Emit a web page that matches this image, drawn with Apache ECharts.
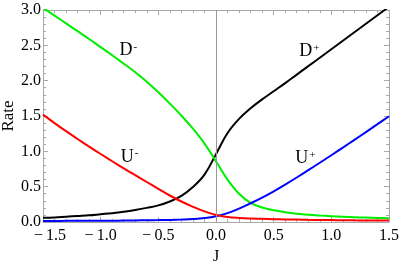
<!DOCTYPE html>
<html>
<head>
<meta charset="utf-8">
<style>
html,body{margin:0;padding:0;background:#fff;}
#chart{width:402px;height:264px;}
</style>
<script src="https://cdn.jsdelivr.net/npm/echarts@6/dist/echarts.min.js"></script>
</head>
<body>
<div id="chart"></div>
<script>
var jValues = [-1.5,-1.4,-1.3,-1.2,-1.1,-1.0,-0.9,-0.8,-0.7,-0.6,-0.5,-0.4,-0.3,-0.2,-0.1,0.0,0.1,0.2,0.3,0.4,0.5,0.6,0.7,0.8,0.9,1.0,1.1,1.2,1.3,1.4,1.5];
var dPlus  = [0.06,0.065,0.075,0.085,0.095,0.11,0.125,0.145,0.17,0.20,0.235,0.29,0.37,0.495,0.67,0.96,1.26,1.46,1.61,1.735,1.85,1.965,2.085,2.205,2.325,2.445,2.565,2.685,2.805,2.925,3.045];
var dMinus = [3.03,2.92,2.81,2.70,2.59,2.475,2.36,2.24,2.12,1.985,1.835,1.675,1.505,1.32,1.11,0.86,0.60,0.40,0.27,0.205,0.165,0.138,0.118,0.103,0.092,0.083,0.075,0.068,0.062,0.057,0.052];
var uPlus  = [0.015,0.015,0.016,0.017,0.017,0.018,0.019,0.02,0.022,0.025,0.027,0.03,0.035,0.042,0.055,0.08,0.125,0.19,0.265,0.345,0.435,0.53,0.63,0.733,0.838,0.945,1.053,1.162,1.272,1.384,1.497];
var uMinus = [1.52,1.40,1.285,1.175,1.067,0.962,0.86,0.76,0.662,0.566,0.47,0.375,0.29,0.215,0.15,0.10,0.072,0.058,0.05,0.045,0.04,0.037,0.034,0.031,0.029,0.027,0.025,0.023,0.022,0.021,0.02];
var xTicks = ['\u2212\u20091.5','\u2212\u20091.0','\u2212\u20090.5','0.0','0.5','1.0','1.5'];
var yTicks = ['0.0','0.5','1.0','1.5','2.0','2.5','3.0'];
var curveLabels = [
  {name:'D', sup:'-', at:[-0.76, 2.43]},
  {name:'D', sup:'+', at:[0.81, 2.415]},
  {name:'U', sup:'-', at:[-0.75, 0.92]},
  {name:'U', sup:'+', at:[0.775, 0.895]}
];

function pairs(ys){ return jValues.map(function(j,i){ return [j, ys[i]]; }); }
var FONT = '"Liberation Serif", "DejaVu Serif", serif';
var frameColor = '#a8a8a8';

function fmtX(v){
  var idx = Math.round((v + 1.5) * 2);
  var s = xTicks[idx];
  if (idx === 0) return '{first|' + s + '}';
  return s;
}

function labelPoint(l){
  return {
    coord: l.at,
    symbol: 'circle', symbolSize: 1,
    itemStyle: {color: 'rgba(0,0,0,0)'},
    label: {
      show: true, position: 'inside',
      formatter: '{b|' + l.name + '}{s|' + l.sup + '}',
      rich: {
        b: {fontFamily: FONT, fontSize: 18, color: '#000', verticalAlign: 'bottom'},
        s: {fontFamily: FONT, fontSize: 11, color: '#000', verticalAlign: 'top', padding: [0,0,0,1]}
      }
    }
  };
}

function curve(name, ys, color, lbl){
  return {
    name: name, type: 'line', data: pairs(ys),
    smooth: 0.4, showSymbol: false, symbol: 'none',
    lineStyle: {color: color, width: 2}, z: 3, clip: true,
    markPoint: {silent: true, data: [labelPoint(lbl)], animation: false}
  };
}

var chart = echarts.init(document.getElementById('chart'), null, {renderer: 'canvas'});
var axisCommon = {
  axisLine: {show: true, onZero: false, lineStyle: {color: frameColor, width: 1}},
  axisTick: {show: true, inside: true, length: 5, lineStyle: {color: frameColor}},
  minorTick: {show: true, splitNumber: 5, length: 3, lineStyle: {color: frameColor}},
  splitLine: {show: false}, minorSplitLine: {show: false}
};
chart.setOption({
  animation: false,
  backgroundColor: '#fff',
  grid: {left: 43, right: 13, top: 10, bottom: 42, containLabel: false, outerBoundsMode: 'none'},
  xAxis: [
    Object.assign({type: 'value', min: -1.5, max: 1.5, interval: 0.5, position: 'bottom',
      name: 'J', nameLocation: 'middle', nameGap: 27, nameMoveOverlap: false,
      nameTextStyle: {fontFamily: FONT, fontSize: 16, color: '#000'},
      axisLabel: {show: true, margin: 6, fontFamily: FONT, fontSize: 16, color: '#000',
        formatter: fmtX, rich: {first: {fontFamily: FONT, fontSize: 16, color: '#000', padding: [0,0,0,14]}}}
    }, axisCommon),
    Object.assign({type: 'value', min: -1.5, max: 1.5, interval: 0.5, position: 'top',
      axisLabel: {show: false}}, axisCommon)
  ],
  yAxis: [
    Object.assign({type: 'value', min: 0, max: 3, interval: 0.5, position: 'left',
      name: 'Rate', nameLocation: 'middle', nameGap: 26, nameRotate: 90, nameMoveOverlap: false,
      nameTextStyle: {fontFamily: FONT, fontSize: 17, color: '#000'},
      axisLabel: {show: true, margin: 2, fontFamily: FONT, fontSize: 16, color: '#000',
        formatter: function(v){ return yTicks[Math.round(v*2)]; }}
    }, axisCommon),
    Object.assign({type: 'value', min: 0, max: 3, interval: 0.5, position: 'right',
      axisLabel: {show: false}}, axisCommon)
  ],
  series: [
    {type: 'line', data: [], z: 1, silent: true,
      markLine: {silent: true, symbol: 'none', animation: false,
        label: {show: false}, lineStyle: {color: '#999', width: 1, type: 'solid'},
        data: [{xAxis: 0}]}},
    curve('D+', dPlus, '#000000', curveLabels[1]),
    curve('D-', dMinus, '#00ee00', curveLabels[0]),
    curve('U+', uPlus, '#0000ff', curveLabels[3]),
    curve('U-', uMinus, '#ff0000', curveLabels[2])
  ]
});
</script>
</body>
</html>
